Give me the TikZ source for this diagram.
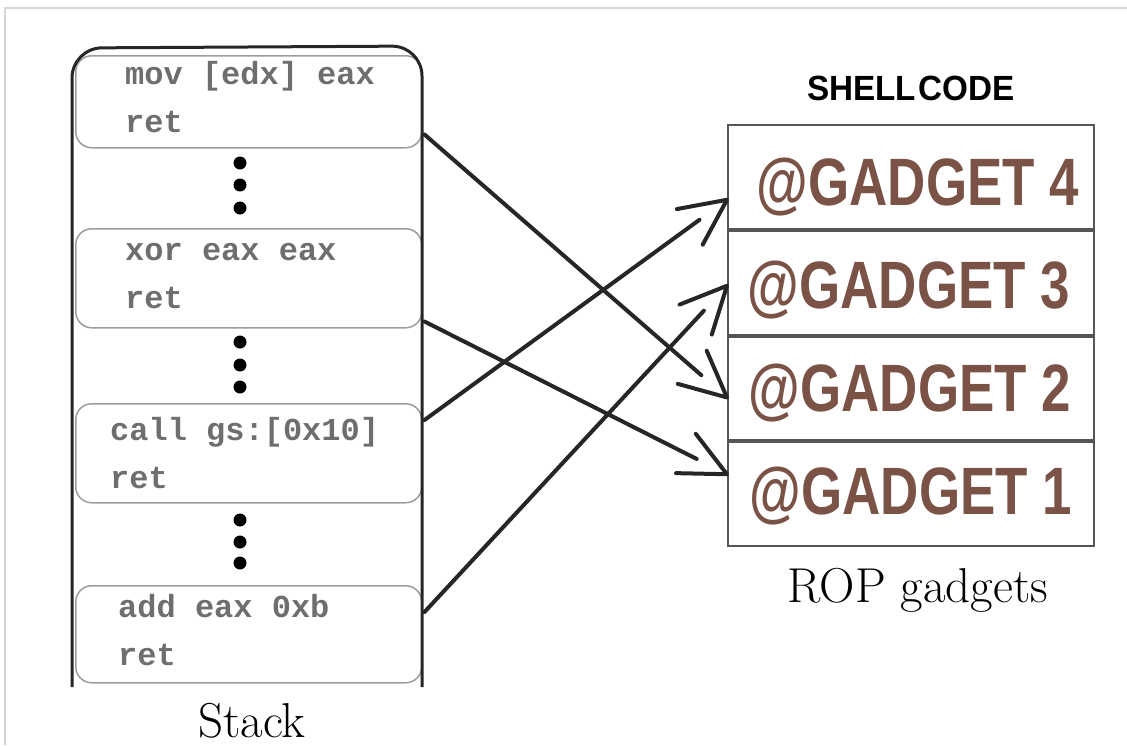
\documentclass[tikz,border=0pt]{standalone}
\usepackage{fontspec}
\usetikzlibrary{decorations.markings}
\newfontfamily\codefont{Liberation Mono}
\newfontfamily\gadgetfont{Liberation Sans}
\definecolor{codegray}{HTML}{6E6E6E}
\definecolor{boxgray}{HTML}{9C9C9C}
\definecolor{cellgray}{HTML}{555555}
\definecolor{gadgetbrown}{HTML}{7A5246}
\definecolor{inkdark}{HTML}{262626}
\definecolor{framegray}{HTML}{D6D6D6}
\begin{document}
\begin{tikzpicture}[x=1pt,y=-1pt,
  slot/.style={draw=boxgray, line width=1.5pt, rounded corners=16pt,
    minimum width=346pt, anchor=north west, inner sep=0pt},
  code/.style={anchor=base west, align=left, inner sep=0pt, text=codegray,
    font=\codefont\bfseries\fontsize{32}{48}\selectfont},
  dot/.style={circle, fill=black, minimum size=13pt, inner sep=0pt},
  wall/.style={draw=inkdark, line width=3pt, rounded corners=30pt},
  cell/.style={draw=cellgray, line width=2pt, minimum width=366pt,
    minimum height=103.75pt, anchor=north west, inner sep=0pt},
  gtext/.style={text=gadgetbrown, inner sep=0pt, text height=48pt, text depth=0pt,
    font=\gadgetfont\bfseries\fontsize{67}{67}\selectfont},
  caption/.style={anchor=base, inner sep=0pt, font=\fontsize{49}{49}\selectfont},
  barbs/.style={draw=inkdark, line width=4pt, line cap=round, line join=round,
    shorten >=0pt, shorten <=0pt},
  link/.style={draw=inkdark, line width=4pt, line cap=round, shorten >=34pt,
    postaction={decorate, decoration={markings, mark=at position 1 with
      {\draw[barbs] (-46pt,22pt) -- (0pt,0pt) -- (-46pt,-22pt);}}}}
]
\useasboundingbox (0,0) rectangle (1127,745);

% page frame
\draw[framegray, line width=2pt] (5,745) -- (5,8) -- (1127,8);

% stack slots
\node[slot, minimum height=92pt] (s1) at (75,55) {};
\node[slot, minimum height=99pt] (s2) at (75,228) {};
\node[slot, minimum height=99pt] (s3) at (75,403) {};
\node[slot, minimum height=97pt] (s4) at (75,585) {};

% stack walls
\draw[wall] (72,687) -- (72,48) -- (422,46) -- (422,687);

% instructions (anchored on the baseline of the last line)
\node[code] (c1) at (125,132) {mov [edx] eax\\ret};
\node[code] (c2) at (125,308) {xor eax eax\\ret};
\node[code] (c3) at (110,488) {call gs:[0x10]\\ret};
\node[code] (c4) at (118,665) {add eax 0xb\\ret};

% ellipsis dots
\node[dot] (d1) at (240,163) {};
\node[dot] (d2) at (240,185) {};
\node[dot] (d3) at (240,208) {};
\node[dot] (d4) at (240,342) {};
\node[dot] (d5) at (240,365) {};
\node[dot] (d6) at (240,387) {};
\node[dot] (d7) at (240,520) {};
\node[dot] (d8) at (240,542) {};
\node[dot] (d9) at (240,563) {};

% shellcode table
\node[inner sep=0pt, font=\gadgetfont\bfseries\fontsize{35}{35}\selectfont] (sc) at (911,88)
  {\scalebox{0.95}[1]{SHELL\kern3pt CODE}};
\node[cell] (g4) at (727,124) {};
\node[cell] (g3) at (g4.south west) {};
\node[cell] (g2) at (g3.south west) {};
\node[cell] (g1) at (g2.south west) {};
\node[gtext] (t4) at (918,181) {\scalebox{0.79}[1]{@GADGET 4}};
\node[gtext] (t3) at (909,284) {\scalebox{0.79}[1]{@GADGET 3}};
\node[gtext] (t2) at (910,387) {\scalebox{0.79}[1]{@GADGET 2}};
\node[gtext] (t1) at (911,490) {\scalebox{0.79}[1]{@GADGET 1}};

% captions
\node[caption] (stk) at (252,737) {Stack};
\node[caption] (rop) at (918,602) {ROP gadgets};

% return addresses pointing into the gadgets
\draw[link] ([xshift=2pt,yshift=14pt]s1.south east) -- ([yshift=-62pt]g2.north west);
\draw[link] ([xshift=2pt,yshift=7pt]s2.south east) -- ([yshift=-33pt]g1.north west);
\draw[link] ([xshift=2pt,yshift=-17pt]s3.north east) -- ([yshift=30pt]g4.south west);
\draw[link] ([xshift=2pt,yshift=-27pt]s4.north east) -- ([yshift=-56pt]g3.north west);
\end{tikzpicture}
\end{document}
